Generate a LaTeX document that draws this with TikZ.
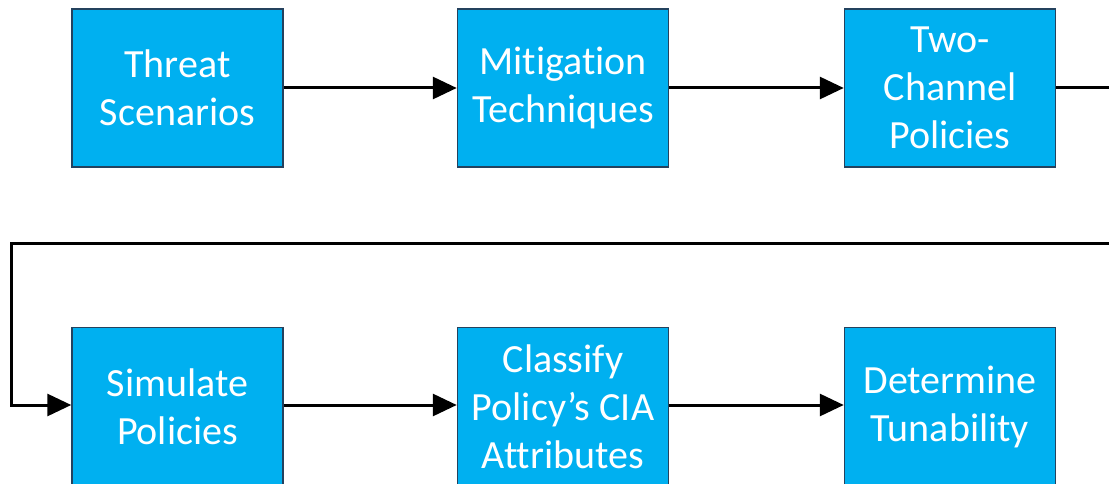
\documentclass[tikz,border=0pt]{standalone}
\usepackage{fontspec}
\setmainfont{Carlito}[Ligatures=NoCommon, RawFeature={-liga;-clig}]
\usetikzlibrary{arrows.meta}
\definecolor{boxfill}{HTML}{00B0F0}
\definecolor{boxedge}{HTML}{24425E}
\tikzset{
  stepbox/.style={draw=boxedge, line width=1.5pt, fill=boxfill, text=white,
    minimum width=211pt, minimum height=158pt, inner sep=0pt,
    align=center, font=\fontsize{40}{48}\selectfont},
  flow/.style={line width=3pt, -{Triangle[length=24pt,width=22pt]}}
}
\begin{document}
\begin{tikzpicture}[x=1pt,y=-1pt]
  \clip (0,0) rectangle (1109,484);
  \useasboundingbox (0,0) rectangle (1109,484);
  % top row
  \node[stepbox] (threat) at (177.5,88) {Threat\\Scenarios};
  \node[stepbox] (mitig) at (563,88) {Mitigation\\Techniques};
  \node[stepbox] (twoch) at (950,88) {Two-\\Channel\\Policies};
  % bottom row (its lower edge runs just past the page)
  \node[stepbox] (sim) at (177.5,406.5) {Simulate\\Policies};
  \node[stepbox] (cls) at (563,406.5) {Classify\\Policy’s CIA\\Attributes};
  \node[stepbox] (tune) at (950,406.5) {Determine\\Tunability};
  % connectors
  \draw[flow] (threat) -- (mitig);
  \draw[flow] (mitig) -- (twoch);
  \coordinate (r2) at (0,405);
  \draw[flow] (sim.east |- r2) -- (cls.west |- r2);
  \draw[flow] (cls.east |- r2) -- (tune.west |- r2);
  % wrap-around from the end of the first row to the start of the second
  \coordinate (wr) at (1130,88);
  \coordinate (wr2) at (1130,243);
  \coordinate (wl) at (11,243);
  \coordinate (wl2) at (11,405);
  \draw[flow] (twoch.east) -- (wr) -- (wr2) -- (wl) -- (wl2) -- (sim.west |- wl2);
\end{tikzpicture}
\end{document}
